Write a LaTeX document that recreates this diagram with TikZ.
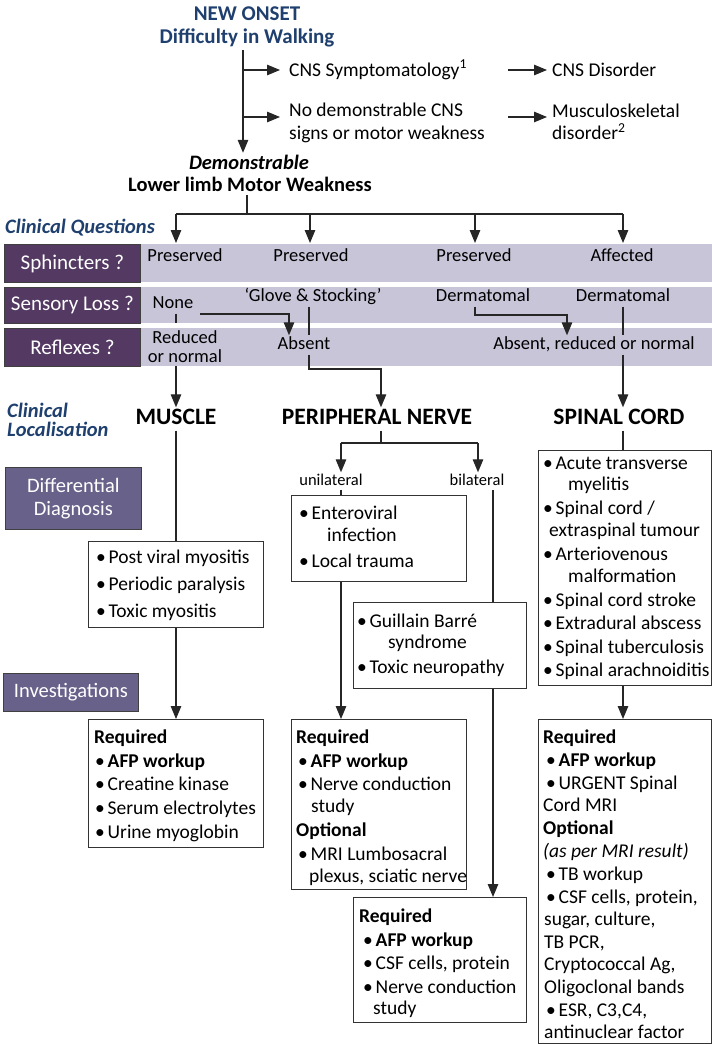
\documentclass[tikz,border=0pt]{standalone}
\usepackage{fontspec}
\setmainfont{Carlito}
\usetikzlibrary{arrows.meta,calc}
\definecolor{tblue}{RGB}{31,64,110}
\definecolor{qpurple}{RGB}{84,58,99}
\definecolor{dpurple}{RGB}{104,98,138}
\definecolor{bandc}{RGB}{201,197,217}
\newcommand{\fsz}[2]{\fontsize{#1}{#2}\selectfont}
\newcommand{\bu}{\makebox[12.5pt][l]{\textbullet}}
\tikzset{
  ln/.style={line width=1.3pt, black!85},
  arr/.style={ln, -{Triangle[length=13pt,width=10.5pt]}},
  box/.style={draw=black!80, line width=1pt, fill=white, anchor=north west, inner sep=0},
  bandbox/.style={fill=bandc, draw=none, anchor=north west, inner sep=0},
  qlab/.style={fill=qpurple, draw=black!75, line width=0.8pt, anchor=north west, inner sep=0, text=white, font=\fsz{21}{24}},
  dlab/.style={fill=dpurple, draw=black!75, line width=0.8pt, anchor=north west, inner sep=0, text=white, font=\fsz{20.5}{24}, align=center},
  ttl/.style={text=tblue, font=\bfseries\fsz{21}{24}, inner sep=1pt},
  hd/.style={font=\bfseries\fsz{23.5}{26}, inner sep=1pt, text height=16, text depth=5},
  bt/.style={font=\fsz{19.5}{22.5}, inner sep=1pt, text height=14, text depth=4},
  qt/.style={font=\fsz{18.5}{19}, inner sep=1pt, text height=13, text depth=4},
  st/.style={font=\fsz{16.5}{19}, inner sep=1pt, text height=12, text depth=3},
  tx/.style={font=\fsz{19.5}{22.5}, inner sep=0, anchor=base west},
  lbl/.style={text=tblue, font=\bfseries\itshape\fsz{20.5}{19.5}, inner sep=0, anchor=west, align=left},
}
\begin{document}
\begin{tikzpicture}[x=1pt,y=-1pt]
\useasboundingbox (0,0) rectangle (712,1044);
% ---------- top ----------
\node[ttl] (t1) at (247,14) {NEW ONSET};
\node[ttl] (t2) at (247,38) {Difficulty in Walking};
\coordinate (s0) at (243,50);
\coordinate (b1) at (243,70);
\coordinate (b2) at (243,117);
\node[bt, anchor=west, inner sep=0] (cns) at (289,71) {CNS Symptomatology\textsuperscript{1}};
\node[bt, anchor=west, inner sep=0, align=left, text height=, text depth=] (nod) at (289,123) {No demonstrable CNS\\signs or motor weakness};
\coordinate (c1) at (508,70);
\coordinate (c2) at (508,117);
\node[bt, anchor=west, inner sep=0] (cnsd) at (552,71) {CNS Disorder};
\node[bt, anchor=west, inner sep=0, align=left, text height=, text depth=] (msk) at (552,122) {Musculoskeletal\\disorder\textsuperscript{2}};
\node[font=\bfseries\itshape\fsz{20.5}{22}, inner sep=0, text height=14, text depth=4] (dem) at (249,164) {Demonstrable};
\node[font=\bfseries\fsz{20.5}{22}, inner sep=0, text height=14, text depth=4] (llw) at (250,186) {Lower limb Motor Weakness};
\draw[arr] (s0) -- ($(s0 |- dem.north)+(0,-2)$);
\draw[arr, shorten >=9pt] (b1) -- (cns.west |- b1);
\draw[arr, shorten >=9pt] (b2) -- (nod.west |- b2);
\draw[arr, shorten >=5pt] (c1) -- (cnsd.west |- c1);
\draw[arr, shorten >=5pt] (c2) -- (msk.west |- c2);
% ---------- clinical questions ----------
\node[lbl] (cq) at (5,228) {Clinical Questions};
\node[bandbox, minimum width=571, minimum height=38] (bnd1) at (141,244) {};
\node[bandbox, minimum width=571, minimum height=36] (bnd2) at (141,287) {};
\node[bandbox, minimum width=571, minimum height=38] (bnd3) at (141,328) {};
\node[qlab, minimum width=136, minimum height=38] (q1) at (4,244) {Sphincters ?};
\node[qlab, minimum width=136, minimum height=36] (q2) at (4,287) {Sensory Loss ?};
\node[qlab, minimum width=136, minimum height=38] (q3) at (4,328) {Reflexes ?};
\coordinate (h0) at (247,214);
\coordinate (hL) at (176,214);
\coordinate (hR) at (623,214);
\coordinate (hA) at (310,214);
\coordinate (hB) at (475,214);
\draw[ln] (llw.south -| h0) -- (h0);
\draw[ln] (hL) -- (hR);
\foreach \c in {hL,hA,hB,hR} \draw[arr] (\c) -- ($(\c |- bnd1.north)+(0,-1)$);
% row 1
\node[qt] (p1) at (185,257) {Preserved};
\node[qt] (p2) at (311,257) {Preserved};
\node[qt] (p3) at (474,257) {Preserved};
\node[qt] (p4) at (622,257) {Affected};
% row 2
\node[qt] (n1) at (173,304) {None};
\node[qt] (g1) at (313,297) {‘Glove \& Stocking’};
\node[qt] (d1) at (483,297) {Dermatomal};
\node[qt] (d2) at (623,297) {Dermatomal};
% row 3
\node[qt, align=center, text height=, text depth=] (r1) at (185,347) {Reduced\\or normal};
\node[qt] (r2) at (304,345) {Absent};
\node[qt] (r3) at (594,345) {Absent, reduced or normal};
% connectors inside bands
\coordinate (nr) at (200,314);
\coordinate (ga) at (309,369);
\coordinate (dm) at (567,315);
\coordinate (colP) at (381,0);
\draw[ln] (hL |- n1.south) -- (hL |- bnd2.south);
\draw[arr] (nr) -| ($(r2.north)+(-15,0)$);
\draw[ln] (ga |- g1.south) -- (ga |- r2.north);
\draw[arr] ($(d1.south)+(-8,0)$) |- (dm) -- (dm |- r3.north);
\draw[ln] (hR |- d2.south) -- (hR |- r3.north);
% ---------- localisation ----------
\node[lbl] (cl) at (7,420) {Clinical\\Localisation};
\node[hd] (mu) at (176,419) {MUSCLE};
\node[hd] (pn) at (377,419) {PERIPHERAL NERVE};
\node[hd] (sc) at (619,419) {SPINAL CORD};
\draw[arr] (hL |- bnd3.south) -- (hL |- mu.north);
\draw[arr] (ga |- r2.south) -- (ga) -| (colP |- pn.north);
\draw[arr] (hR |- r3.south) -- (hR |- sc.north);
% ---------- left labels ----------
\node[dlab, minimum width=136, minimum height=62] (dd) at (5,467) {Differential\\[-1pt]Diagnosis};
\node[dlab, minimum width=135, minimum height=38] (inv) at (3,673) {Investigations};
% ---------- muscle column ----------
\node[box, minimum width=175, minimum height=86] (md) at (88,541) {};
\node[tx] (md1) at (96,563) {\bu Post viral myositis};
\node[tx] (md2) at (96,590) {\bu Periodic paralysis};
\node[tx] (md3) at (96,617) {\bu Toxic myositis};
\draw[ln] (mu.south -| hL) -- (hL |- md.north);
\node[box, minimum width=175, minimum height=128] (mr) at (88,719) {};
\node[tx] (mr1) at (94,743) {\bfseries Required};
\node[tx] (mr2) at (95,767) {\bu\bfseries AFP workup};
\node[tx] (mr3) at (95,790) {\bu Creatine kinase};
\node[tx] (mr4) at (95,814) {\bu Serum electrolytes};
\node[tx] (mr5) at (95,838) {\bu Urine myoglobin};
\draw[arr] (hL |- md.south) -- (hL |- mr.north);
% ---------- peripheral nerve column ----------
\coordinate (pnL) at (341,443);
\coordinate (pnR) at (478,443);
\coordinate (bx) at (493,0);
\node[st] (uni) at (331,481) {unilateral};
\node[st] (bil) at (477,481) {bilateral};
\draw[ln] (colP |- pn.south) -- (colP |- pnL);
\draw[ln] (pnL) -- (pnR);
\draw[arr] (pnL) -- (pnL |- uni.north);
\draw[arr] (pnR) -- (pnR |- bil.north);
\node[box, minimum width=175, minimum height=86] (pd1) at (291,495) {};
\node[tx] (pd11) at (299,519) {\bu Enteroviral};
\node[tx] (pd12) at (327,541) {infection};
\node[tx] (pd13) at (299,567) {\bu Local trauma};
\draw[ln] (pnL |- uni.south) -- (pnL |- pd1.north);
\node[box, minimum width=173, minimum height=86] (pd2) at (353,602) {};
\node[tx] (pd21) at (357,627) {\bu Guillain Barré};
\node[tx] (pd22) at (388,648) {syndrome};
\node[tx] (pd23) at (357,673) {\bu Toxic neuropathy};
\draw[ln] (bx |- bil.south) -- (bx |- pd2.north);
\node[box, minimum width=175, minimum height=170] (pr) at (291,719) {};
\node[tx] (pr1) at (296,743) {\bfseries Required};
\node[tx] (pr2) at (298,767) {\bu\bfseries AFP workup};
\node[tx] (pr3) at (298,790) {\bu Nerve conduction};
\node[tx] (pr4) at (311,812) {study};
\node[tx] (pr5) at (296,836) {\bfseries Optional};
\node[tx] (pr6) at (298,860) {\bu MRI Lumbosacral};
\node[tx] (pr7) at (309,882) {plexus, sciatic nerve};
\draw[arr] (pnL |- pd1.south) -- (pnL |- pr.north);
\node[box, minimum width=173, minimum height=125] (br) at (353,897) {};
\node[tx] (br1) at (359,922) {\bfseries Required};
\node[tx] (br2) at (363,946) {\bu\bfseries AFP workup};
\node[tx] (br3) at (363,969) {\bu CSF cells, protein};
\node[tx] (br4) at (363,993) {\bu Nerve conduction};
\node[tx] (br5) at (373,1014) {study};
\draw[arr] (bx |- pd2.south) -- (bx |- br.north);
% ---------- spinal cord column ----------
\node[box, minimum width=173, minimum height=235] (sd) at (538,450) {};
\node[tx] (sd1) at (543,469) {\bu Acute transverse};
\node[tx] (sd2) at (568,490) {myelitis};
\node[tx] (sd3) at (543,514) {\bu Spinal cord /};
\node[tx] (sd4) at (549,536) {extraspinal tumour};
\node[tx] (sd5) at (543,560) {\bu Arteriovenous};
\node[tx] (sd6) at (568,582) {malformation};
\node[tx] (sd7) at (543,606) {\bu Spinal cord stroke};
\node[tx] (sd8) at (543,629) {\bu Extradural abscess};
\node[tx] (sd9) at (543,653) {\bu Spinal tuberculosis};
\node[tx] (sd10) at (543,676) {\bu Spinal arachnoiditis};
\draw[ln] (hR |- sc.south) -- (hR |- sd.north);
\node[box, minimum width=173, minimum height=324] (sr) at (538,719) {};
\node[tx] (sr1) at (543,743) {\bfseries Required};
\node[tx] (sr2) at (546,766) {\bu\bfseries AFP workup};
\node[tx] (sr3) at (546,789) {\bu URGENT Spinal};
\node[tx] (sr4) at (543,811) {Cord MRI};
\node[tx] (sr5) at (543,834) {\bfseries Optional};
\node[tx] (sr6) at (543,857) {\itshape (as per MRI result)};
\node[tx] (sr7) at (546,880) {\bu TB workup};
\node[tx] (sr8) at (546,903) {\bu CSF cells, protein,};
\node[tx] (sr9) at (544,925) {sugar, culture,};
\node[tx] (sr10) at (544,948) {TB PCR,};
\node[tx] (sr11) at (544,970) {Cryptococcal Ag,};
\node[tx] (sr12) at (544,993) {Oligoclonal bands};
\node[tx] (sr13) at (546,1016) {\bu ESR, C3,C4,};
\node[tx] (sr14) at (544,1038) {antinuclear factor};
\draw[arr] (hR |- sd.south) -- (hR |- sr.north);
\end{tikzpicture}
\end{document}
